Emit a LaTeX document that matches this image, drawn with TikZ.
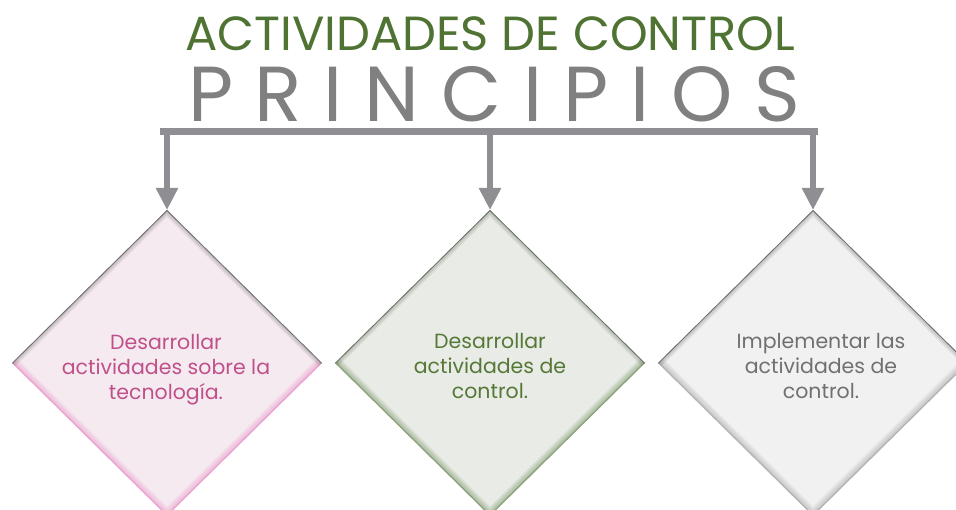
\documentclass[tikz,border=0pt]{standalone}
\usepackage{fontspec}
\setmainfont{Poppins}
\usetikzlibrary{shapes.geometric,arrows.meta}
\definecolor{titlegreen}{RGB}{79,115,50}
\definecolor{princgray}{RGB}{128,128,128}
\definecolor{barc}{RGB}{142,142,147}
\definecolor{pinkfill}{RGB}{246,234,241}
\definecolor{pinktext}{RGB}{192,80,138}
\definecolor{pinkglow}{RGB}{232,140,196}
\definecolor{greenfill}{RGB}{233,236,230}
\definecolor{greentext}{RGB}{85,120,55}
\definecolor{greenglow}{RGB}{110,140,90}
\definecolor{grayfill}{RGB}{241,241,241}
\definecolor{graytext}{RGB}{112,112,112}
\definecolor{grayglow}{RGB}{160,160,160}
\definecolor{edgedark}{RGB}{110,110,110}
\definecolor{edgegreen}{RGB}{105,115,100}
\newlength\prw
\newlength\prk
\newlength\ttw
\newcommand\glowdia[3]{%
  \begin{scope}
    \clip (#1.north) -- (#1.east) -- (#1.south) -- (#1.west) -- cycle;
    \foreach \w in {2,4,...,14}
      \draw[line width=\w pt, draw=#2, opacity=0.09] (#1.west) -- (#1.south) -- (#1.east);
    \draw[line width=2.5pt, draw=#2, opacity=0.5] (#1.west) -- (#1.south) -- (#1.east);
    \foreach \w in {2,4,...,10}
      \draw[line width=\w pt, draw=#3, opacity=0.09] (#1.west) -- (#1.north) -- (#1.east);
    \draw[line width=1.6pt, draw=#3] (#1.west) -- (#1.north) -- (#1.east);
  \end{scope}}
\begin{document}
\settowidth\ttw{\fontsize{10}{10}\selectfont ACTIVIDADES DE CONTROL}%
\settowidth\prw{\fontsize{78}{78}\selectfont PRINCIPIOS}%
\setlength\prk{\dimexpr(612pt-\prw)/9\relax}%
\begin{tikzpicture}[x=1pt,y=-1pt,
  dia/.style={diamond, aspect=1, inner sep=0pt, outer sep=0pt, draw=none,
    minimum width=310pt, minimum height=306pt},
  dtext/.style={align=center, inner sep=0pt, font=\fontsize{20.5}{25}\selectfont},
  conn/.style={line width=6.5pt, draw=barc, -{Triangle[length=22pt,width=21pt]}},
  barline/.style={line width=7pt, draw=barc, line cap=butt}]
\useasboundingbox (0,0) rectangle (956,510);
\begin{scope}
\clip (0,0) rectangle (956,510);
% title
\pgfmathsetmacro\tsize{10*610/\ttw}
\node[anchor=base, inner sep=0pt, text=titlegreen, font=\fontsize{\tsize}{\tsize}\selectfont] (title) at (490,51) {ACTIVIDADES DE CONTROL};
% principios
\node[anchor=base west, inner sep=0pt, text=princgray, font=\fontsize{78}{78}\selectfont] (princ) at (188,122) {P\kern\prk R\kern\prk I\kern\prk N\kern\prk C\kern\prk I\kern\prk P\kern\prk I\kern\prk O\kern\prk S};
% diamonds
\node[dia, fill=pinkfill] (d1) at (167,363) {};
\node[dia, fill=greenfill] (d2) at (490,363) {};
\node[dia, fill=grayfill] (d3) at (813,363) {};
\glowdia{d1}{pinkglow}{edgedark}
\glowdia{d2}{greenglow}{edgegreen}
\glowdia{d3}{grayglow}{edgedark}
\node[dtext, text=pinktext] (t1) at (166,370) {Desarrollar\\actividades sobre la\\tecnología.};
\node[dtext, text=greentext] (t2) at (490,366) {Desarrollar\\actividades de\\control.};
\node[dtext, text=graytext] (t3) at (821,366) {Implementar las\\actividades de\\control.};
% connectors
\coordinate (bl) at (160,131.5);
\coordinate (br) at (818,131.5);
\coordinate (b1) at (167,131.5);
\coordinate (b2) at (490,131.5);
\coordinate (b3) at (813,131.5);
\draw[barline] (bl) -- (br);
\draw[conn] (b1) -- (d1.north);
\draw[conn] (b2) -- (d2.north);
\draw[conn] (b3) -- (d3.north);
\end{scope}
\end{tikzpicture}
\end{document}
